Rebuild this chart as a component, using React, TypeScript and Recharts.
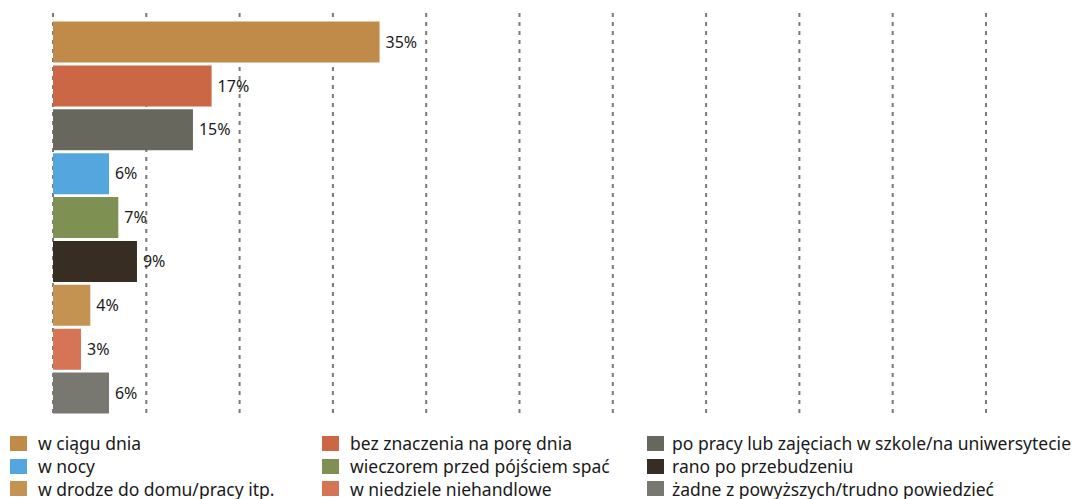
import { BarChart, Bar, XAxis, YAxis, CartesianGrid, Cell, LabelList } from "recharts"

const categories = [
  "w ciągu dnia",
  "bez znaczenia na porę dnia",
  "po pracy lub zajęciach w szkole/na uniwersytecie",
  "w nocy",
  "wieczorem przed pójściem spać",
  "rano po przebudzeniu",
  "w drodze do domu/pracy itp.",
  "w niedziele niehandlowe",
  "żadne z powyższych/trudno powiedzieć",
]

const shares = [35, 17, 15, 6, 7, 9, 4, 3, 6]

const colors = [
  "#C08B48",
  "#CC6746",
  "#67675E",
  "#53A7DE",
  "#7E9153",
  "#372D23",
  "#C49352",
  "#D67456",
  "#787870",
]

const gridTicks = [0, 10, 20, 30, 40, 50, 60, 70, 80, 90, 100]

const font = "'Noto Sans', sans-serif"

function LegendGrid() {
  return (
    <div
      style={{
        position: "absolute",
        left: 10,
        top: 432,
        display: "grid",
        gridTemplateColumns: "312px 325px 440px",
        gridAutoRows: "22.7px",
        fontFamily: font,
        fontSize: 17.5,
        color: "#1a1a1a",
      }}
    >
      {categories.map((name, i) => (
        <div key={name} style={{ display: "flex", alignItems: "center", whiteSpace: "nowrap" }}>
          <span
            style={{
              width: 17,
              height: 15,
              background: colors[i],
              marginRight: i % 3 === 2 ? 8 : 11,
              flex: "none",
            }}
          />
          {name}
        </div>
      ))}
    </div>
  )
}

export default function App() {
  const data = categories.map((name, i) => ({ name, value: shares[i] }))

  return (
    <div style={{ position: "absolute", left: 0, top: 0, width: 1076, height: 499, background: "#fff" }}>
      <BarChart
        width={1076}
        height={499}
        data={data}
        layout="vertical"
        margin={{ top: 13, right: 90, bottom: 81, left: 53 }}
        barCategoryGap={1.5}
      >
        <CartesianGrid
          horizontal={false}
          stroke="#7a7a7a"
          strokeWidth={2}
          strokeDasharray="4 5"
        />
        <XAxis type="number" domain={[0, 100]} ticks={gridTicks} hide />
        <YAxis type="category" dataKey="name" hide padding={{ top: 7, bottom: 3 }} />
        <Bar dataKey="value" isAnimationActive={false}>
          {data.map((d, i) => (
            <Cell key={d.name} fill={colors[i]} />
          ))}
          <LabelList
            dataKey="value"
            position="right"
            offset={6}
            formatter={(v: any) => `${v}%`}
            style={{ fontFamily: font, fontSize: 16, fill: "#1a1a1a" }}
          />
        </Bar>
      </BarChart>
      <LegendGrid />
    </div>
  )
}
